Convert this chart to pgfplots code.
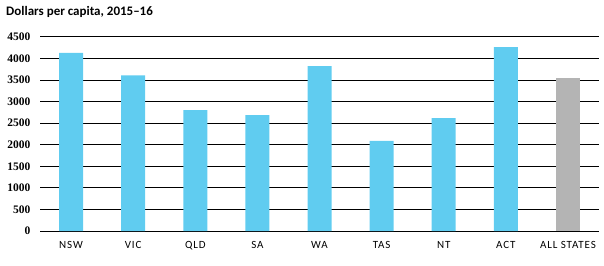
\documentclass[border=0pt]{standalone}
\usepackage{fontspec}
\setmainfont{Carlito}
\newfontfamily\tickfont{Liberation Serif}
\newfontfamily\catfont[LetterSpace=8]{Carlito}
\usepackage{pgfplots}
\pgfplotsset{compat=1.18}
\definecolor{barblue}{RGB}{96,204,240}
\definecolor{bargray}{RGB}{180,180,180}
\begin{document}
\begin{tikzpicture}[x=1pt,y=1pt]
\useasboundingbox (-40,-34) rectangle (564,231);
\node[anchor=west,font=\bfseries\fontsize{13}{15}\selectfont,inner sep=0pt] at (-34,219) {Dollars per capita, 2015--16};
\begin{axis}[
  at={(0,0)}, anchor=south west,
  scale only axis, width=559pt, height=194pt,
  ymin=0, ymax=4500, ytick={0,500,...,4500},
  xmin=-0.5, xmax=8.5,
  xtick={0,...,8},
  xticklabels={NSW,VIC,QLD,SA,WA,TAS,NT,ACT,ALL STATES},
  axis line style={draw=none},
  major tick length=0pt,
  ymajorgrids, grid style={black, line width=1pt},
  /pgf/number format/assume math mode=true,
  /pgf/number format/1000 sep={},
  yticklabel style={font=\tickfont\bfseries\fontsize{11.5}{13}\selectfont, xshift=-6pt},
  xticklabel style={font=\catfont\fontsize{11}{13}\selectfont, yshift=-7pt},
  ybar, bar width=24pt,
  clip=false,
]
\addplot[fill=barblue, draw=none, bar shift=0pt] coordinates {
(0,4130) (1,3610) (2,2805) (3,2690) (4,3825) (5,2088) (6,2620) (7,4268)};
\addplot[fill=bargray, draw=none, bar shift=0pt] coordinates {(8,3550)};
\end{axis}
\end{tikzpicture}
\end{document}
